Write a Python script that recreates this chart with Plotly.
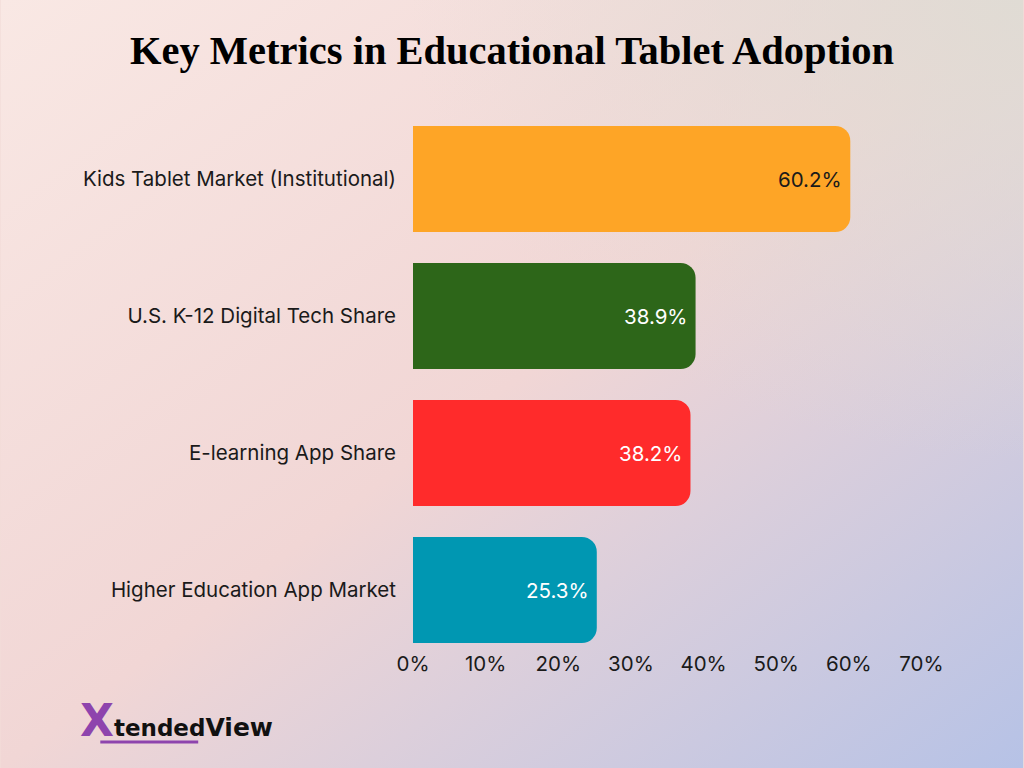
import plotly.graph_objects as go
import urllib.parse

categories = ["Kids Tablet Market (Institutional)", "U.S. K-12 Digital Tech Share",
              "E-learning App Share", "Higher Education App Market"]
values = [60.2, 38.9, 38.2, 25.3]
bar_colors = ["#FEA526", "#2D6619", "#FF2B2B", "#0097B2"]
text_colors = ["#1a1a1a", "#ffffff", "#ffffff", "#ffffff"]
tick_vals = [0, 10, 20, 30, 40, 50, 60, 70]
tick_text = [f"{v}%" for v in tick_vals]

W, H = 1024, 768
L, R, T, B = 413, 1024 - 936.5, 112, 768 - 648

fig = go.Figure(go.Bar(
    x=values, y=categories, orientation="h",
    marker=dict(color=bar_colors, line=dict(width=0)),
    width=0.774, hoverinfo="skip",
))

svg = f"""<svg xmlns='http://www.w3.org/2000/svg' width='{W}' height='{H}' viewBox='0 0 {W} {H}' preserveAspectRatio='none'>
<defs>
<linearGradient id='g' x1='0' y1='0' x2='1' y2='1'>
<stop offset='0' stop-color='#f9e8e4'/>
<stop offset='0.5' stop-color='#f1d6d5'/>
<stop offset='1' stop-color='#b6c2e6'/>
</linearGradient>
<radialGradient id='r' cx='1' cy='0' r='0.6'>
<stop offset='0' stop-color='#dedcd4' stop-opacity='0.9'/>
<stop offset='1' stop-color='#dedcd4' stop-opacity='0'/>
</radialGradient>
</defs>
<rect width='{W}' height='{H}' fill='url(#g)'/>
<rect width='{W}' height='{H}' fill='url(#r)'/>
</svg>"""
src = "data:image/svg+xml;charset=utf-8," + urllib.parse.quote(svg)
pw = W - L - R
ph = H - T - B

annotations = [dict(
    x=v, y=c, xref="x", yref="y", text=f"{v}%", showarrow=False,
    xanchor="right", yanchor="middle", xshift=-6,
    font=dict(family="Inter", size=20.5, color=tc))
    for v, c, tc in zip(values, categories, text_colors)]

annotations.append(dict(
    text="<span style='color:#8E44AD;font-size:44px'><b>X</b></span><b>tended</b><span style='font-size:25px'><b>View</b></span>",
    xref="paper", yref="paper", x=-(L - 78) / pw, y=-(720 - 648) / ph,
    xanchor="left", yanchor="middle", showarrow=False,
    font=dict(family="DejaVu Sans", size=23, color="#111111")))

fig.update_layout(
    width=W, height=H,
    margin=dict(l=L, r=R, t=T, b=B, pad=0),
    paper_bgcolor="#f2dcd8", plot_bgcolor="rgba(0,0,0,0)",
    barcornerradius=15,
    showlegend=False,
    font=dict(family="Inter", color="#1a1a1a"),
    title=dict(text="<b>Key Metrics in Educational Tablet Adoption</b>",
               font=dict(family="Liberation Serif", size=40.5, color="#000000"),
               x=0.5, xanchor="center", xref="container", y=0.935, yanchor="middle",
               yref="container"),
    images=[dict(source=src, xref="paper", yref="paper",
                 x=-L / pw, y=1 + T / ph, sizex=W / pw, sizey=H / ph,
                 xanchor="left", yanchor="top", sizing="stretch", layer="below")],
    xaxis=dict(range=[0, 72], tickvals=tick_vals, ticktext=tick_text,
               showgrid=False, zeroline=False, showline=False, ticks="",
               tickfont=dict(family="Inter", size=20.5, color="#1a1a1a"),
               ticklabelstandoff=1, fixedrange=True),
    yaxis=dict(categoryorder="array", categoryarray=categories,
               range=[3 + (648 - 590) / 137, -(179 - 112) / 137],
               showgrid=False, zeroline=False, showline=False, ticks="",
               tickfont=dict(family="Inter", size=20.5, color="#1a1a1a"),
               ticklabelstandoff=16, fixedrange=True),
    annotations=annotations,
    shapes=[dict(type="line", xref="paper", yref="paper",
                 x0=-(L - 100) / pw, x1=-(L - 198) / pw,
                 y0=-(742 - 648) / ph, y1=-(742 - 648) / ph,
                 line=dict(color="#8E44AD", width=3))],
)

fig.write_html("out.html")
